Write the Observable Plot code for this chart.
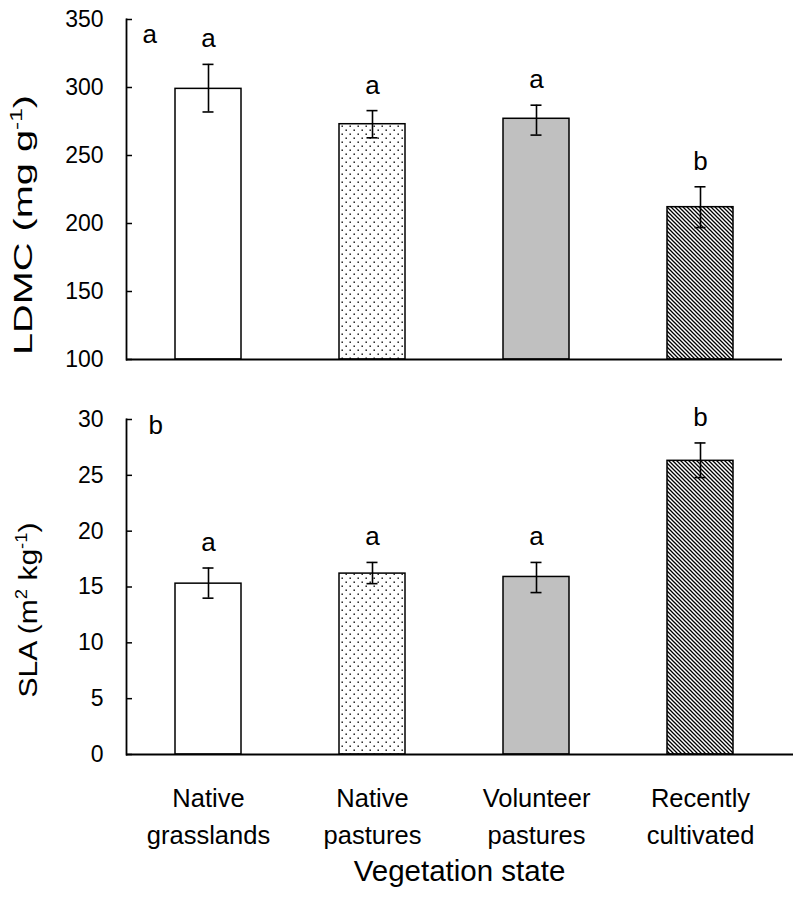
<!DOCTYPE html>
<html><head><meta charset="utf-8">
<script src="https://cdn.jsdelivr.net/npm/d3@7"></script>
<script src="https://cdn.jsdelivr.net/npm/@observablehq/plot@0.6"></script>
<style>
body{margin:0;background:#fff;}
#chart svg{display:block;}
</style>
</head><body>
<svg width="0" height="0" style="position:absolute">
  <defs>
    <pattern id="dots" width="8" height="8" patternUnits="userSpaceOnUse">
      <rect width="8" height="8" fill="#fff"/>
      <rect x="1.5" y="1.5" width="1.4" height="1.4" fill="#000"/>
      <rect x="5.5" y="5.5" width="1.4" height="1.4" fill="#000"/>
    </pattern>
    <pattern id="hatch" width="4" height="4" patternUnits="userSpaceOnUse">
      <rect width="4" height="4" fill="#fff"/>
      <path d="M-1,-1 L5,5 M-1,3 L1,5 M3,-1 L5,1" stroke="#000" stroke-width="1.3"/>
    </pattern>
  </defs>
</svg>
<div id="chart"></div>
<script>
// ---- data ----
const categories = ["Native grasslands", "Native pastures", "Volunteer pastures", "Recently cultivated"];
const tickLabels = ["Native\ngrasslands", "Native\npastures", "Volunteer\npastures", "Recently\ncultivated"];
const ldmcMean = [299, 273, 277, 212];
const ldmcLow = [282, 263, 265, 197];
const ldmcHigh = [317, 283, 287, 227];
const ldmcLetters = ["a", "a", "a", "b"];
const slaMean = [15.3, 16.2, 15.9, 26.3];
const slaLow = [14.0, 15.3, 14.5, 24.8];
const slaHigh = [16.7, 17.2, 17.2, 27.9];
const slaLetters = ["a", "a", "a", "b"];
const ldmcTicks = [100, 150, 200, 250, 300, 350];
const slaTicks = [0, 5, 10, 15, 20, 25, 30];
const xTitle = "Vegetation state";

// ---- styles ----
const fillFor = {
  "Native grasslands": "#ffffff",
  "Native pastures": "url(#dots)",
  "Volunteer pastures": "#c0c0c0",
  "Recently cultivated": "url(#hatch)"
};
const W = 793, ML = 126, MR = 11;
const plotW = W - ML - MR;
const font = "'Liberation Sans', Arial, Helvetica, sans-serif";

function panel(cfg) {
  const rows = categories.map((c, i) => ({cat: c, mean: cfg.mean[i], lo: cfg.low[i], hi: cfg.high[i], letter: cfg.letters[i]}));
  const marks = [];
  rows.forEach(r => {
    marks.push(Plot.barY([r], {x: "cat", y1: cfg.domain[0], y2: "mean", fill: fillFor[r.cat], stroke: "#000", strokeWidth: 1.5}));
  });
  marks.push(
    Plot.ruleX(rows, {x: "cat", y1: "lo", y2: "hi", stroke: "#000", strokeWidth: 1.6}),
    Plot.tickY(rows, {x: "cat", y: "hi", stroke: "#000", strokeWidth: 1.6, insetLeft: 27.5, insetRight: 27.5}),
    Plot.tickY(rows, {x: "cat", y: "lo", stroke: "#000", strokeWidth: 1.6, insetLeft: 27.5, insetRight: 27.5}),
    Plot.text(rows, {x: "cat", y: "hi", text: "letter", dy: -17, lineAnchor: "bottom", fontSize: 26, fill: "#000"}),
    Plot.text([cfg.panelLetter], {frameAnchor: "top-left", text: d => d, textAnchor: "start", lineAnchor: "bottom", dx: cfg.panelDx, dy: cfg.panelDy, fontSize: 26, fill: "#000"}),
    Plot.ruleY(cfg.ticks, {stroke: "#000", strokeWidth: 1.5, insetRight: plotW - 6}),
    Plot.ruleY([cfg.domain[0]], {stroke: "#000", strokeWidth: 1.8, insetRight: cfg.baseInsetRight}),
    Plot.frame({anchor: "left", stroke: "#000", strokeWidth: 1.8}),
    Plot.axisY(cfg.ticks, {tickSize: 0, tickPadding: 23, fontSize: 23, label: null})
  );
  if (cfg.bottomAxis) {
    marks.push(
      Plot.axisX({
        tickFormat: d => tickLabels[categories.indexOf(d)],
        tickSize: 0, tickPadding: 26, fontSize: 25.5, lineHeight: 1.45, label: null
      }),
      Plot.text([xTitle], {frameAnchor: "bottom", text: d => d, dx: 5, dy: 126, lineAnchor: "bottom", fontSize: 29.5, fill: "#000"})
    );
  }
  const chart = Plot.plot({
    width: W, height: cfg.height,
    marginLeft: ML, marginRight: MR, marginTop: cfg.marginTop, marginBottom: cfg.marginBottom,
    style: {fontFamily: font, color: "#000", background: "#fff", overflow: "visible"},
    x: {domain: categories, paddingInner: 0.6, paddingOuter: 0.3, axis: cfg.bottomAxis ? undefined : null, label: null},
    y: {domain: cfg.domain, label: null},
    marks
  });
  // rotated y-axis title with superscript
  const svg = d3.select(chart.tagName === "svg" ? chart : chart.querySelector("svg"));
  const t = svg.append("text")
    .attr("transform", `translate(${cfg.titleX},${cfg.titleY}) rotate(-90)`)
    .attr("text-anchor", "middle")
    .attr("font-family", font)
    .attr("font-size", 26)
    .attr("fill", "#000")
    .attr("textLength", cfg.titleLength)
    .attr("lengthAdjust", "spacingAndGlyphs");
  cfg.titleParts.forEach(p => {
    const ts = t.append("tspan").text(p.text);
    if (p.sup) ts.attr("font-size", 16).attr("dy", -10);
    else if (p.after) ts.attr("dy", 10);
  });
  return chart;
}

const topPanel = panel({
  mean: ldmcMean, low: ldmcLow, high: ldmcHigh, letters: ldmcLetters, ticks: ldmcTicks,
  domain: [100, 350], height: 380, marginTop: 19, marginBottom: 21,
  panelLetter: "a", panelDx: 16, panelDy: 23, baseInsetRight: 0,
  titleX: 32, titleY: 225, titleLength: 260,
  titleParts: [{text: "LDMC (mg g"}, {text: "-1", sup: true}, {text: ")", after: true}],
  bottomAxis: false
});
const bottomPanel = panel({
  mean: slaMean, low: slaLow, high: slaHigh, letters: slaLetters, ticks: slaTicks,
  domain: [0, 30], height: 517, marginTop: 39, marginBottom: 143,
  panelLetter: "b", panelDx: 22, panelDy: 14, baseInsetRight: -11,
  titleX: 37, titleY: 230, titleLength: 175,
  titleParts: [{text: "SLA (m"}, {text: "2", sup: true}, {text: " kg", after: true}, {text: "-1", sup: true}, {text: ")", after: true}],
  bottomAxis: true
});
document.getElementById("chart").append(topPanel, bottomPanel);
</script>
</body></html>
